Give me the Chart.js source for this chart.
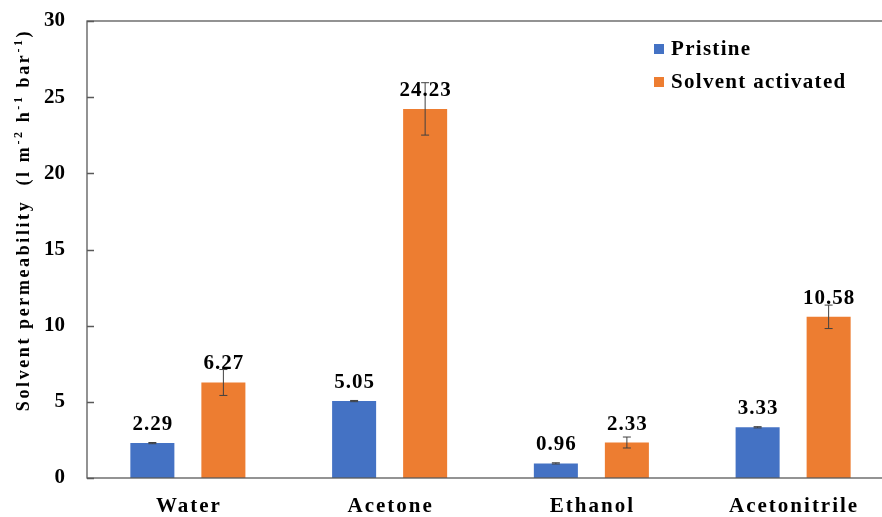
<!DOCTYPE html>
<html>
<head>
<meta charset="utf-8">
<script src="https://cdn.jsdelivr.net/npm/chart.js@4.4.0/dist/chart.umd.min.js"></script>
<style>
    html, body { margin: 0; padding: 0; background: #fff; overflow: hidden; }
    #wrap { position: relative; width: 900px; height: 517px; }
</style>
</head>
<body>
<div id="wrap"><canvas id="permChart"></canvas></div>
<script>
const categories = ["Water", "Acetone", "Ethanol", "Acetonitrile"];
const seriesNames = ["Pristine", "Solvent activated"];
const pristine = [2.29, 5.05, 0.96, 3.33];
const activated = [6.27, 24.23, 2.33, 10.58];
// standard deviations shown as error bars
const pristineErr = [0.04, 0.04, 0.04, 0.04];
const activatedErr = [0.85, 1.72, 0.36, 0.77];
const yTicks = [0, 5, 10, 15, 20, 25, 30];

const BLUE = "#4472C4";
const ORANGE = "#ED7D31";
const AXIS = "#595959";
const SERIF = "'Liberation Serif', 'Times New Roman', serif";

// error bars, value labels, category labels, inward ticks, plot frame, axis title and legend
const decorations = {
    id: "decorations",
    afterDatasetsDraw(chart) {
        const ctx = chart.ctx;
        const area = chart.chartArea;
        const x = chart.scales.x;
        const y = chart.scales.y;
        const errs = [pristineErr, activatedErr];

        ctx.save();
        // error bars
        ctx.strokeStyle = "#404040";
        ctx.lineWidth = 1;
        chart.data.datasets.forEach((ds, di) => {
            chart.getDatasetMeta(di).data.forEach((bar, i) => {
                const v = ds.data[i];
                const e = errs[di][i];
                const top = y.getPixelForValue(v + e);
                const bot = y.getPixelForValue(v - e);
                ctx.beginPath();
                ctx.moveTo(bar.x, top);
                ctx.lineTo(bar.x, bot);
                ctx.moveTo(bar.x - 4, top);
                ctx.lineTo(bar.x + 4, top);
                ctx.moveTo(bar.x - 4, bot);
                ctx.lineTo(bar.x + 4, bot);
                ctx.stroke();
            });
        });

        // value labels above each bar
        ctx.fillStyle = "#000";
        ctx.font = "bold 21px " + SERIF;
        ctx.letterSpacing = "1px";
        ctx.textAlign = "center";
        ctx.textBaseline = "alphabetic";
        chart.data.datasets.forEach((ds, di) => {
            chart.getDatasetMeta(di).data.forEach((bar, i) => {
                ctx.fillText(ds.data[i].toFixed(2), bar.x + 0.5, bar.y - 13);
            });
        });

        // category labels under the axis
        ctx.letterSpacing = "2px";
        categories.forEach((c, i) => {
            ctx.fillText(c, x.getPixelForTick(i) + 1, area.bottom + 34);
        });

        // plot frame and inward tick marks
        ctx.strokeStyle = AXIS;
        ctx.lineWidth = 1.3;
        ctx.strokeRect(area.left, area.top, area.right - area.left, area.bottom - area.top);
        ctx.beginPath();
        yTicks.forEach((t) => {
            const py = Math.round(y.getPixelForValue(t)) + 0.5;
            ctx.moveTo(area.left, py);
            ctx.lineTo(area.left + 7, py);
        });
        ctx.stroke();

        // y axis title with superscripts
        const parts = [
            ["Solvent permeability  (l m", false],
            ["-2", true],
            [" h", false],
            ["-1", true],
            [" bar", false],
            ["-1", true],
            [")", false],
        ];
        const mainFont = "bold 18px " + SERIF;
        const supFont = "bold 12px " + SERIF;
        ctx.letterSpacing = "2.6px";
        let total = 0;
        parts.forEach(([txt, sup]) => {
            ctx.font = sup ? supFont : mainFont;
            total += ctx.measureText(txt).width;
        });
        ctx.translate(29, 220);
        ctx.rotate(-Math.PI / 2);
        ctx.textAlign = "left";
        let tx = -total / 2;
        parts.forEach(([txt, sup]) => {
            ctx.font = sup ? supFont : mainFont;
            ctx.fillText(txt, tx, sup ? -7 : 0);
            tx += ctx.measureText(txt).width;
        });
        ctx.setTransform(1, 0, 0, 1, 0, 0);

        // legend
        ctx.font = "bold 21px " + SERIF;
        ctx.letterSpacing = "1.3px";
        ctx.textBaseline = "middle";
        [BLUE, ORANGE].forEach((c, i) => {
            const cy = 49 + i * 33;
            ctx.fillStyle = c;
            ctx.fillRect(654, cy - 5, 10, 10);
            ctx.fillStyle = "#000";
            ctx.fillText(seriesNames[i], 671, cy + 1);
        });
        ctx.restore();
    }
};

new Chart(document.getElementById("permChart"), {
    type: "bar",
    data: {
        labels: categories,
        datasets: [
            { label: seriesNames[0], data: pristine, backgroundColor: BLUE },
            { label: seriesNames[1], data: activated, backgroundColor: ORANGE },
        ],
    },
    options: {
        responsive: true,
        maintainAspectRatio: false,
        animation: false,
        categoryPercentage: 0.704,
        barPercentage: 0.62,
        layout: { padding: { top: 21, right: 6, left: 0, bottom: 0 } },
        scales: {
            x: {
                grid: { display: false, drawTicks: false },
                border: { display: false },
                ticks: { display: false },
                afterFit: (s) => { s.height = 39; },
            },
            y: {
                min: 0,
                max: 30,
                grid: { display: false, drawTicks: false },
                border: { display: false },
                ticks: {
                    stepSize: 5,
                    color: "#000",
                    padding: 22,
                    font: { family: SERIF, size: 21, weight: "bold" },
                },
                afterFit: (s) => {
                    s.width = 87;
                    // let the top tick label sit in the outer padding
                    s.paddingTop = 0;
                    s.paddingBottom = 0;
                },
            },
        },
        plugins: {
            legend: { display: false },
            tooltip: { enabled: false },
        },
    },
    plugins: [decorations],
});
</script>
</body>
</html>
